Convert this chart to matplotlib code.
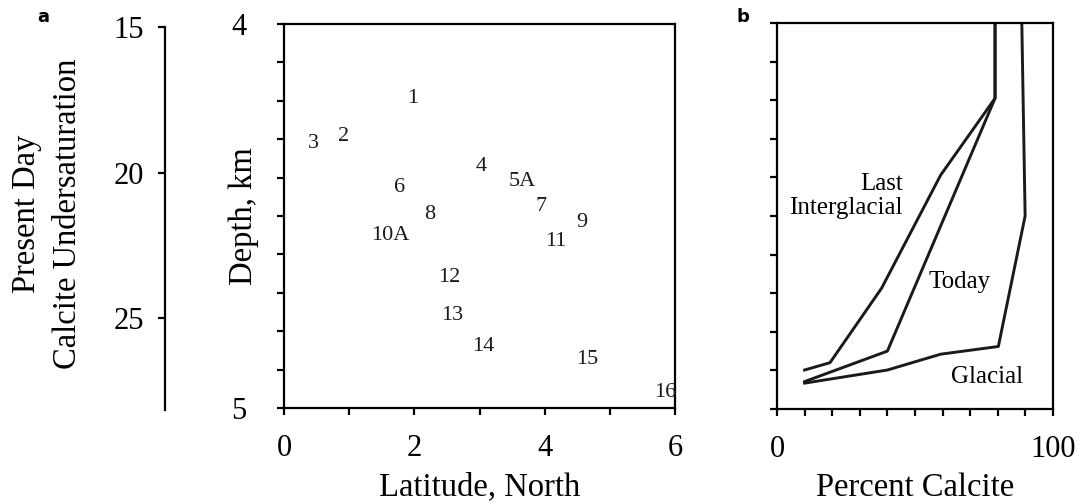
import matplotlib
matplotlib.use('Agg')
import matplotlib.pyplot as plt
import numpy as np

plt.rcParams['font.family'] = ['Liberation Serif', 'DejaVu Serif']

# Панель a: номери станцій, широта та глибина
site_labels = ['1', '2', '3', '4', '5A', '6', '7', '8', '9', '10A',
               '11', '12', '13', '14', '15', '16']
site_lat = [1.98, 0.91, 0.45, 3.03, 3.66, 1.78, 3.95, 2.23, 4.57, 1.63,
            4.17, 2.54, 2.58, 3.05, 4.65, 5.85]
site_depth = [4.193, 4.294, 4.31, 4.372, 4.41, 4.427, 4.474, 4.495, 4.516, 4.55,
              4.566, 4.66, 4.76, 4.84, 4.875, 4.96]

# Шкала недонасичення кальцитом
undersat_ticks = [15, 20, 25]

# Панель b: відсоток кальциту з глибиною
interglacial_pct = [10, 19.2, 37.9, 59.3, 79, 79]
interglacial_depth = [4.899, 4.880, 4.687, 4.394, 4.195, 4.0]
today_pct = [10, 40, 79, 79]
today_depth = [4.929, 4.85, 4.195, 4.0]
glacial_pct = [10, 40, 59.3, 80.2, 89.9, 88.7]
glacial_depth = [4.933, 4.899, 4.858, 4.838, 4.5, 4.0]

W, H = 1081, 504
fig = plt.figure(figsize=(W / 100, H / 100), dpi=100)


def rect(x0, y0, x1, y1):
    # перетворення піксельних меж у частки фігури
    return [x0 / W, 1 - y1 / H, (x1 - x0) / W, (y1 - y0) / H]


tick_fs = 22
label_fs = 23.5
note_fs = 16
lw = 1.6
ink = '#1a1a1a'

# Окрема вісь недонасичення
ax0 = fig.add_axes(rect(165, 27, 166, 410))
for s in ['top', 'right', 'bottom']:
    ax0.spines[s].set_visible(False)
ax0.spines['left'].set_linewidth(lw)
ax0.set_ylim(15 + 383 / 29.14, 15)
ax0.set_yticks(undersat_ticks)
ax0.set_xticks([])
ax0.tick_params(axis='y', direction='out', length=5, width=lw, pad=10,
                labelsize=tick_fs)
ax0.set_ylabel('Present Day\nCalcite Undersaturation', fontsize=label_fs,
               linespacing=1.45)
ax0.yaxis.set_label_coords(83 / W, 1 - 214 / H, transform=fig.transFigure)

# Панель a
ax1 = fig.add_axes(rect(284, 24, 675, 408))
for lab, x, y in zip(site_labels, site_lat, site_depth):
    ax1.text(x, y, lab, ha='center', va='center', fontsize=note_fs, color=ink)
ax1.set_xlim(0, 6)
ax1.set_ylim(5, 4)
ax1.set_xticks([0, 2, 4, 6])
ax1.set_xticks([1, 3, 5], minor=True)
ax1.set_yticks([4, 5])
ax1.set_yticks(np.arange(4.1, 5.0, 0.1), minor=True)
ax1.tick_params(which='both', direction='out', length=5, width=lw,
                labelsize=tick_fs)
ax1.tick_params(axis='x', pad=14)
ax1.tick_params(axis='y', pad=22)
for s in ax1.spines.values():
    s.set_linewidth(lw)
ax1.set_xlabel('Latitude, North', fontsize=label_fs, labelpad=6)
ax1.set_ylabel('Depth, km', fontsize=label_fs)
ax1.yaxis.set_label_coords(-0.063, 0.5)

# Панель b
ax2 = fig.add_axes(rect(777, 23, 1053, 409))
ax2.plot(interglacial_pct, interglacial_depth, color=ink, lw=2.1)
ax2.plot(today_pct, today_depth, color=ink, lw=2.1)
ax2.plot(glacial_pct, glacial_depth, color=ink, lw=2.1)
ax2.text(45.6, 4.448, 'Last\nInterglacial', ha='right', va='center',
         multialignment='right', fontsize=18, linespacing=1.15)
ax2.text(66.3, 4.67, 'Today', ha='center', va='center', fontsize=18)
ax2.text(76, 4.917, 'Glacial', ha='center', va='center', fontsize=18)
ax2.set_xlim(0, 100)
ax2.set_ylim(5, 4)
ax2.set_xticks([0, 100])
ax2.set_xticks(np.arange(10, 100, 10), minor=True)
ax2.set_yticks(np.arange(4.0, 5.01, 0.1))
ax2.set_yticklabels([])
ax2.tick_params(which='both', direction='out', length=5, width=lw,
                labelsize=tick_fs)
ax2.tick_params(axis='x', pad=14)
for s in ax2.spines.values():
    s.set_linewidth(lw)
ax2.set_xlabel('Percent Calcite', fontsize=label_fs, labelpad=6)

# Позначки панелей
fig.text(43 / W, 1 - 17 / H, 'a', fontsize=13, fontweight='bold',
         family='DejaVu Sans', ha='center', va='center')
fig.text(743 / W, 1 - 17 / H, 'b', fontsize=13, fontweight='bold',
         family='DejaVu Sans', ha='center', va='center')

fig.savefig('out.png', dpi=100)
